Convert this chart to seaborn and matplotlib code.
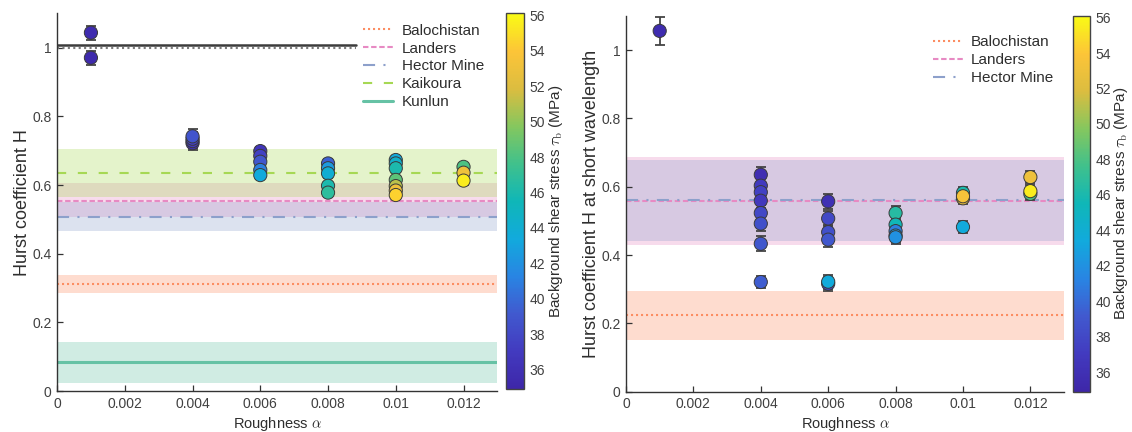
import numpy as np
import pandas as pd
import matplotlib
matplotlib.use("Agg")
import matplotlib.pyplot as plt
from matplotlib.colors import LinearSegmentedColormap, Normalize
from matplotlib.cm import ScalarMappable
import seaborn as sns

# ---------------------------------------------------------------- data
# Left panel: Hurst coefficient of the whole rupture profile
left_alpha = [0.001, 0.001,
              0.004, 0.004, 0.004, 0.004,
              0.006, 0.006, 0.006, 0.006, 0.006,
              0.008, 0.008, 0.008, 0.008, 0.008,
              0.010, 0.010, 0.010, 0.010, 0.010, 0.010, 0.010,
              0.012, 0.012, 0.012]
left_H = [1.044, 0.971,
          0.722, 0.728, 0.735, 0.742,
          0.699, 0.685, 0.668, 0.644, 0.629,
          0.663, 0.649, 0.634, 0.598, 0.578,
          0.673, 0.663, 0.649, 0.615, 0.597, 0.584, 0.571,
          0.653, 0.636, 0.613]
left_err = [0.020, 0.020,
            0.020, 0.020, 0.020, 0.020,
            0.012, 0.012, 0.012, 0.012, 0.012,
            0.012, 0.012, 0.012, 0.012, 0.012,
            0.012, 0.012, 0.012, 0.012, 0.012, 0.012, 0.012,
            0.012, 0.012, 0.012]
left_tau = [35.5, 35.3,
            36.2, 36.8, 37.5, 38.8,
            36.5, 37.5, 39.0, 41.0, 43.5,
            39.5, 42.5, 44.0, 46.0, 46.8,
            43.5, 44.5, 46.0, 48.5, 51.0, 53.0, 54.5,
            48.0, 53.0, 55.5]

# Right panel: Hurst coefficient at short wavelength
right_alpha = [0.001,
               0.004, 0.004, 0.004, 0.004, 0.004, 0.004, 0.004, 0.004,
               0.006, 0.006, 0.006, 0.006, 0.006, 0.006,
               0.008, 0.008, 0.008, 0.008, 0.008,
               0.010, 0.010, 0.010, 0.010,
               0.012, 0.012, 0.012]
right_H = [1.056,
           0.635, 0.603, 0.584, 0.559, 0.523, 0.492, 0.433, 0.321,
           0.557, 0.507, 0.467, 0.445, 0.316, 0.322,
           0.523, 0.489, 0.470, 0.457, 0.452,
           0.582, 0.566, 0.572, 0.482,
           0.628, 0.579, 0.587]
right_err = [0.040,
             0.022, 0.022, 0.022, 0.022, 0.022, 0.022, 0.022, 0.018,
             0.022, 0.022, 0.022, 0.022, 0.020, 0.020,
             0.020, 0.020, 0.020, 0.020, 0.020,
             0.018, 0.018, 0.018, 0.018,
             0.018, 0.018, 0.018]
right_tau = [35.5,
             35.8, 37.0, 37.5, 36.8, 38.0, 38.5, 39.0, 39.3,
             36.0, 38.0, 38.5, 39.0, 38.0, 43.5,
             46.5, 45.5, 41.0, 42.5, 42.0,
             46.0, 53.0, 53.5, 43.5,
             53.0, 48.0, 55.5]

# Field estimates of H (line) and their ranges (band)
left_sites = ["Balochistan", "Landers", "Hector Mine", "Kaikoura", "Kunlun"]
left_site_H = [0.312, 0.553, 0.508, 0.634, 0.0835]
left_site_lo = [0.286, 0.508, 0.466, 0.566, 0.024]
left_site_hi = [0.338, 0.605, 0.552, 0.704, 0.142]

right_sites = ["Balochistan", "Landers", "Hector Mine"]
right_site_H = [0.224, 0.559, 0.562]
right_site_lo = [0.150, 0.430, 0.442]
right_site_hi = [0.296, 0.687, 0.679]

# Self-similar reference levels in the left panel
ref_levels = [1.008, 1.0]

stress_ticks = [36, 38, 40, 42, 44, 46, 48, 50, 52, 54, 56]
stress_range = (34.9, 56.1)
x_ticks = [0, 0.002, 0.004, 0.006, 0.008, 0.010, 0.012]
x_tick_labels = ["0", "0.002", "0.004", "0.006", "0.008", "0.01", "0.012"]
y_ticks = [0, 0.2, 0.4, 0.6, 0.8, 1.0]
y_tick_labels = ["0", "0.2", "0.4", "0.6", "0.8", "1"]

# ---------------------------------------------------------------- style
sns.set_style("white")
plt.rcParams["font.family"] = ["Liberation Sans", "DejaVu Sans"]
plt.rcParams["mathtext.fontset"] = "cm"

parula = LinearSegmentedColormap.from_list("parula", [
    (0.00, (0.2422, 0.1504, 0.6603)),
    (0.10, (0.2600, 0.2300, 0.7500)),
    (0.20, (0.2550, 0.3500, 0.8100)),
    (0.30, (0.1600, 0.5200, 0.8900)),
    (0.40, (0.0690, 0.6650, 0.8650)),
    (0.50, (0.0600, 0.7150, 0.7200)),
    (0.60, (0.2500, 0.7550, 0.5500)),
    (0.70, (0.5200, 0.7800, 0.3700)),
    (0.80, (0.8600, 0.7400, 0.2500)),
    (0.90, (0.9900, 0.7700, 0.2200)),
    (1.00, (0.9769, 0.9839, 0.0805)),
])
norm = Normalize(*stress_range)

site_style = {
    "Balochistan": dict(color="#fc8d62", dashes=(1.0, 1.4), lw=1.5),
    "Landers":     dict(color="#e78ac3", dashes=(2.6, 1.3), lw=1.5),
    "Hector Mine": dict(color="#8da0cb", dashes=(5.8, 4.0, 1.0, 4.0), lw=1.5),
    "Kaikoura":    dict(color="#a6d854", dashes=(4.4, 5.6), lw=1.5),
    "Kunlun":      dict(color="#66c2a5", dashes=None, lw=2.2),
}

TXT = "#2e2e2e"
TICK = "#404040"
SPINE = "#333333"


def style_axes(ax, ylabel):
    ax.set_xlim(0, 0.013)
    ax.set_ylim(0, 1.1)
    ax.set_xticks(x_ticks)
    ax.set_xticklabels(x_tick_labels)
    ax.set_yticks(y_ticks)
    ax.set_yticklabels(y_tick_labels)
    ax.tick_params(direction="in", length=4, width=0.9, colors=SPINE,
                   labelcolor=TICK, labelsize=10, pad=4,
                   left=True, bottom=True, right=False, top=False)
    for side in ("top", "right"):
        ax.spines[side].set_visible(False)
    for side in ("left", "bottom"):
        ax.spines[side].set_color(SPINE)
        ax.spines[side].set_linewidth(1.0)
    ax.set_xlabel(r"Roughness $\alpha$", fontsize=10.5, color=TXT, labelpad=3)
    ax.set_ylabel(ylabel, fontsize=13, color=TXT, labelpad=1)


def draw_sites(ax, names, H, lo, hi):
    handles = []
    for name, h, a, b in zip(names, H, lo, hi):
        st = site_style[name]
        ax.axhspan(a, b, color=st["color"], alpha=0.3, lw=0, zorder=0.5)
        ln = ax.axhline(h, color=st["color"], lw=st["lw"], zorder=1, label=name)
        if st["dashes"] is not None:
            ln.set_dashes(st["dashes"])
        handles.append(ln)
    return handles


def draw_points(ax, xs, ys, errs, taus):
    df = pd.DataFrame({"alpha": xs, "H": ys, "err": errs, "tau": taus})
    ax.errorbar(df["alpha"], df["H"], yerr=df["err"], fmt="none",
                ecolor="#444444", elinewidth=1.3, capsize=3.5, capthick=1.3,
                zorder=2)
    sns.scatterplot(data=df, x="alpha", y="H", hue="tau", palette=parula,
                    hue_norm=norm, s=90, edgecolor="#3a3a3a", linewidth=0.7,
                    legend=False, ax=ax, zorder=3)


def add_colorbar(fig, rect):
    cax = fig.add_axes(rect)
    cb = fig.colorbar(ScalarMappable(norm=norm, cmap=parula), cax=cax)
    cb.set_ticks(stress_ticks)
    cb.outline.set_edgecolor("#444444")
    cb.outline.set_linewidth(1.0)
    cax.tick_params(direction="in", length=4, width=0.9, colors=SPINE,
                    labelcolor=TICK, labelsize=10, pad=4)
    cb.set_label(r"Background shear stress $\tau_{\mathrm{b}}$ (MPa)",
                 fontsize=11, color=TXT, labelpad=1)
    return cb


legend_kw = dict(loc="upper left", fontsize=11, handlelength=1.96,
                 handletextpad=0.55, labelspacing=0.25, borderpad=0.3,
                 borderaxespad=0)

fig = plt.figure(figsize=(11.32, 4.32), dpi=100)

# ---------------------------------------------------------------- left
ax1 = fig.add_axes([0.0504, 0.0949, 0.389, 0.874])
h1 = draw_sites(ax1, left_sites, left_site_H, left_site_lo, left_site_hi)
ax1.axhline(ref_levels[0], xmax=0.68, color="#3c3c3c", lw=1.8, zorder=1)
ref_dot = ax1.axhline(ref_levels[1], xmax=0.68, color="#7a7a7a", lw=1.5,
                      zorder=1)
ref_dot.set_dashes((1.0, 1.6))
draw_points(ax1, left_alpha, left_H, left_err, left_tau)
style_axes(ax1, "Hurst coefficient H")
leg1 = ax1.legend(handles=h1, bbox_to_anchor=(0.685, 0.985), frameon=False,
                  **legend_kw)
for t in leg1.get_texts():
    t.set_color(TXT)
add_colorbar(fig, [0.4473, 0.0988, 0.0158, 0.870])

# ---------------------------------------------------------------- right
ax2 = fig.add_axes([0.553, 0.0933, 0.387, 0.870])
h2 = draw_sites(ax2, right_sites, right_site_H, right_site_lo, right_site_hi)
draw_points(ax2, right_alpha, right_H, right_err, right_tau)
style_axes(ax2, "Hurst coefficient H at short wavelength")
leg2 = ax2.legend(handles=h2, bbox_to_anchor=(0.69, 0.96), frameon=False,
                  **legend_kw)
for t in leg2.get_texts():
    t.set_color(TXT)
add_colorbar(fig, [0.9475, 0.0933, 0.0151, 0.870])

fig.savefig("out.png", dpi=100)
